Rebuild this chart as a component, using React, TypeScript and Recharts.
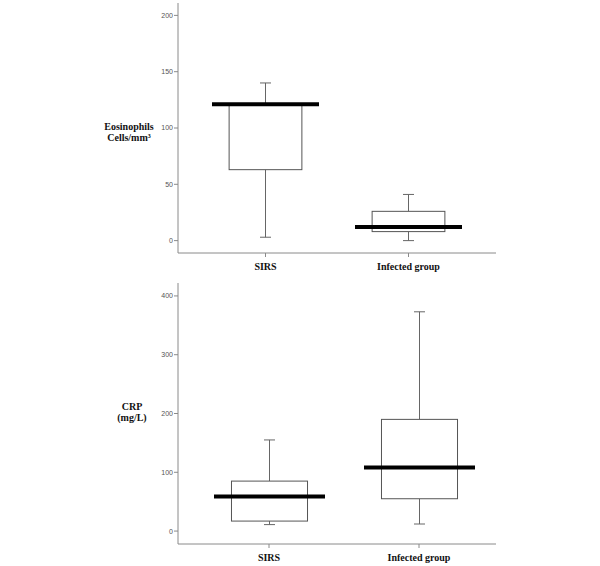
import React from 'react';
import { ComposedChart, Bar, XAxis, YAxis } from 'recharts';

// group labels
const groups = ['SIRS', 'Infected group'];

// eosinophils (cells/mm3): min, q1, median, q3, max
const eosMin = [3, 0];
const eosQ1 = [63, 8];
const eosMedian = [121, 12];
const eosQ3 = [121, 26];
const eosMax = [140, 41];
const eosTicks = [0, 50, 100, 150, 200];

// CRP (mg/L)
const crpMin = [11, 12];
const crpQ1 = [17, 55];
const crpMedian = [59, 108];
const crpQ3 = [85, 190];
const crpMax = [155, 373];
const crpTicks = [0, 100, 200, 300, 400];

const buildRows = (min: number[], q1: number[], med: number[], q3: number[], max: number[]) =>
  groups.map((name, i) => ({ name, min: min[i], q1: q1[i], median: med[i], q3: q3[i], max: max[i] }));

const eosData = buildRows(eosMin, eosQ1, eosMedian, eosQ3, eosMax);
const crpData = buildRows(crpMin, crpQ1, crpMedian, crpQ3, crpMax);

const serif = '"Liberation Serif", "Times New Roman", serif';
const axisGray = '#8a8a8a';

// box + whiskers drawn inside the [min, max] range bar
const makeBoxShape = (boxRatio: number, capWidth: number) => (props: any) => {
  const { x, y, width, height, payload } = props;
  if (!payload) return null;
  const top = Math.min(y, y + height);
  const h = Math.abs(height);
  const span = payload.max - payload.min || 1;
  const py = (v: number) => top + (h * (payload.max - v)) / span;
  const cx = x + width / 2;
  const bw = width * boxRatio;
  return (
    <g>
      <line x1={cx} x2={cx} y1={py(payload.max)} y2={py(payload.q3)} stroke="#666" strokeWidth={1} />
      <line x1={cx} x2={cx} y1={py(payload.q1)} y2={py(payload.min)} stroke="#666" strokeWidth={1} />
      <line x1={cx - capWidth / 2} x2={cx + capWidth / 2} y1={py(payload.max)} y2={py(payload.max)} stroke="#666" strokeWidth={1} />
      <line x1={cx - capWidth / 2} x2={cx + capWidth / 2} y1={py(payload.min)} y2={py(payload.min)} stroke="#666" strokeWidth={1} />
      <rect x={cx - bw / 2} y={py(payload.q3)} width={bw} height={Math.max(py(payload.q1) - py(payload.q3), 0)} fill="#fff" stroke="#555" strokeWidth={1} />
      <line x1={x} x2={x + width} y1={py(payload.median)} y2={py(payload.median)} stroke="#000" strokeWidth={4} />
    </g>
  );
};

const AxisTitle = ({ viewBox, lines, offsetX, firstDy }: any) => {
  const cx = viewBox.x + offsetX;
  const cy = viewBox.y + viewBox.height / 2;
  return (
    <text x={cx} y={cy} textAnchor="middle" fontFamily={serif} fontWeight="bold" fontSize={10} fill="#111">
      {lines.map((l: string, i: number) => (
        <tspan key={i} x={cx} dy={i === 0 ? firstDy : 11}>{l}</tspan>
      ))}
    </text>
  );
};

const BoxChart = ({ data, domain, ticks, title, height, marginBottom, padding, boxRatio, barSize, titleOffset, titleDy }: any) => (
  <ComposedChart width={600} height={height} data={data} margin={{ top: 3, right: 104, bottom: marginBottom, left: 118 }}>
    <XAxis
      dataKey="name"
      height={20}
      padding={padding}
      axisLine={{ stroke: axisGray }}
      tickLine={{ stroke: axisGray }}
      tickSize={4}
      tickMargin={6}
      tick={{ fill: '#111', fontSize: 10, fontWeight: 'bold', fontFamily: serif }}
    />
    <YAxis
      type="number"
      width={60}
      domain={domain}
      ticks={ticks}
      interval={0}
      axisLine={{ stroke: axisGray }}
      tickLine={{ stroke: axisGray }}
      tickSize={4}
      tickMargin={1}
      tick={{ fill: '#555', fontSize: 7, fontFamily: 'Arial, "Liberation Sans", sans-serif' }}
      label={(p: any) => <AxisTitle {...p} lines={title} offsetX={titleOffset} firstDy={titleDy} />}
    />
    <Bar
      dataKey={(d: any) => [d.min, d.max]}
      barSize={barSize}
      isAnimationActive={false}
      shape={makeBoxShape(boxRatio, 11)}
    />
  </ComposedChart>
);

export default function App() {
  return (
    <div style={{ position: 'absolute', left: 0, top: 0, width: 600, height: 566, background: '#fff' }}>
      <div style={{ position: 'absolute', left: 0, top: 0 }}>
        <BoxChart
          data={eosData}
          domain={[-11, 211]}
          ticks={eosTicks}
          title={['Eosinophils', 'Cells/mm³']}
          height={283}
          marginBottom={10}
          padding={{ left: 16, right: 16 }}
          boxRatio={0.68}
          barSize={107}
          titleOffset={11}
          titleDy={2}
        />
      </div>
      <div style={{ position: 'absolute', left: 0, top: 280 }}>
        <BoxChart
          data={crpData}
          domain={[-22, 422]}
          ticks={crpTicks}
          title={['CRP', '(mg/L)']}
          height={286}
          marginBottom={2}
          padding={{ left: 16, right: 2 }}
          boxRatio={0.685}
          barSize={111}
          titleOffset={14}
          titleDy={-4}
        />
      </div>
    </div>
  );
}
